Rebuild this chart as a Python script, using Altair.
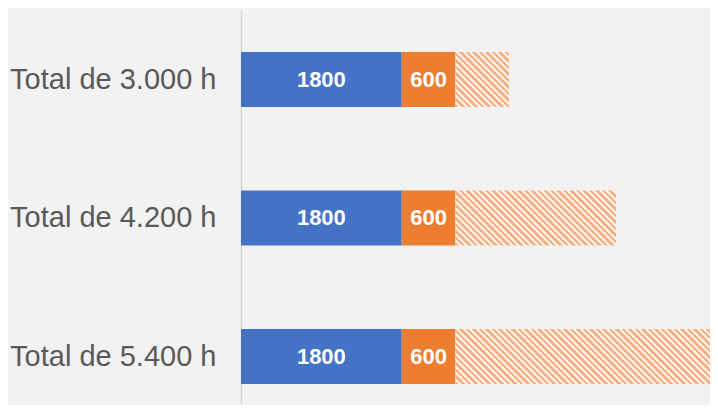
import altair as alt
import pandas as pd

categories = ["Total de 3.000 h", "Total de 4.200 h", "Total de 5.400 h"]
first_part = [1800, 1800, 1800]
second_part = [600, 600, 600]
totals = [3000, 4200, 5400]

PLOT_W = 469
PLOT_H = 395
X_MAX = 5252
BAR_H = 55
PERIOD = 6.5

rows = []
for c, a, b, t in zip(categories, first_part, second_part, totals):
    rows.append({"cat": c, "seg": "a", "start": 0, "end": a, "val": a})
    rows.append({"cat": c, "seg": "b", "start": a, "end": a + b, "val": b})
    rows.append({"cat": c, "seg": "c", "start": a + b, "end": t, "val": t - a - b})
df = pd.DataFrame(rows)

y_enc = alt.Y(
    "cat:N",
    sort=categories,
    title=None,
    scale=alt.Scale(paddingInner=0.603, paddingOuter=0.2274, align=0.667),
    axis=alt.Axis(
        ticks=False, grid=False, domainColor="#d6d6d6", domainWidth=1.5,
        labelFontSize=29, labelColor="#595959", labelFont="Liberation Sans",
        labelPadding=25, labelLimit=400,
    ),
)
x_scale = alt.Scale(domain=[0, X_MAX], nice=False, zero=True)

base = alt.Chart(df)

blue = base.transform_filter(alt.datum.seg == "a").mark_bar(color="#4472C4").encode(
    x=alt.X("start:Q", scale=x_scale, axis=None), x2="end:Q", y=y_enc
)
orange = base.transform_filter(alt.datum.seg == "b").mark_bar(color="#ED7D31").encode(
    x=alt.X("start:Q", scale=x_scale, axis=None), x2="end:Q", y=y_enc
)


def hatch_gradient(value):
    W = value * PLOT_W / X_MAX
    H = BAR_H
    a = (W + H) / (W * W + H * H)
    n = (W + H) / PERIOD
    d = 1.0 / n
    stops = []
    k = 0
    c1, c2 = "#F7B184", "#FDF2EA"
    while k * d < 1.0:
        s0 = k * d
        s1 = min((k + 0.5) * d, 1.0)
        s2 = min((k + 1) * d, 1.0)
        stops.append(alt.GradientStop(offset=s0, color=c1))
        stops.append(alt.GradientStop(offset=s1, color=c1))
        if s1 < 1.0:
            stops.append(alt.GradientStop(offset=s1, color=c2))
            stops.append(alt.GradientStop(offset=s2, color=c2))
        k += 1
    return alt.LinearGradient(
        gradient="linear", stops=stops, x1=0, y1=1, x2=a * W, y2=1 - a * H
    )


hatch_layers = []
for c, a, b, t in zip(categories, first_part, second_part, totals):
    grad = hatch_gradient(t - a - b)
    hatch_layers.append(
        base.transform_filter((alt.datum.seg == "c") & (alt.datum.cat == c))
        .mark_bar(color=grad, clip=True)
        .encode(x=alt.X("start:Q", scale=x_scale, axis=None), x2="end:Q", y=y_enc)
    )

labels = (
    base.transform_filter(alt.datum.seg != "c")
    .transform_calculate(mid="(datum.start + datum.end) / 2")
    .mark_text(color="white", fontSize=22, fontWeight="bold", font="Liberation Sans")
    .encode(x=alt.X("mid:Q", scale=x_scale, axis=None), y=y_enc, text="val:Q")
)

chart = alt.layer(blue, orange, *hatch_layers, labels).properties(
    width=PLOT_W,
    height=PLOT_H,
    padding={"left": 233, "top": 2, "right": 0, "bottom": 0},
    autosize=alt.AutoSizeParams(type="none"),
    background="#f2f2f2",
).configure_view(stroke=None)

chart.save("out.html", embed_options={"renderer": "svg", "actions": False})
